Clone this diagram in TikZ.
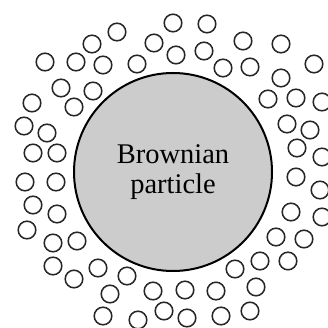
\documentclass[tikz,border=0pt]{standalone}
\usepackage{fontspec}
\setmainfont{Liberation Serif}
\usepackage{xcolor}

\begin{document}
\begin{tikzpicture}[x=1pt, y=-1pt, every node/.style={font=\fontsize{28.5}{30}\selectfont},
  solvent/.style={draw=black!85, circle, line width=1.5pt, minimum size=17.6pt, inner sep=0pt},
  particle/.style={draw, circle, line width=2pt, fill=black!20, minimum size=198pt, inner sep=0pt, align=center}]
  \useasboundingbox (0,0) rectangle (327,328);
  \node[particle] (brown) at (173,172) {Brownian\\particle};
  % surrounding solvent molecules
  \foreach [count=\i] \p in {(117,32),(92,44),(154,43),(173,23),(207,24),(176,55),(204,51),(243,41),
      (281,44),(223,68),(250,67),(314,64),(281,78),(268,99),(296,98),(322,102),(287,124),(310,130),
      (297,148),(322,157),(296,177),(320,190),(291,212),(322,217),(276,237),(304,239),(260,261),
      (288,261),(235,269),(256,287),(216,291),(185,290),(187,318),(221,316),(250,311),(153,291),
      (164,311),(138,320),(127,276),(98,268),(110,294),(103,316),(74,279),(53,266),(77,241),
      (53,243),(27,230),(57,214),(33,205),(25,182),(56,182),(33,153),(57,153),(24,126),(47,133),
      (32,103),(74,107),(61,88),(93,91),(45,62),(76,62),(103,65),(137,64)}
    \node[solvent] (m\i) at \p {};
\end{tikzpicture}
\end{document}
